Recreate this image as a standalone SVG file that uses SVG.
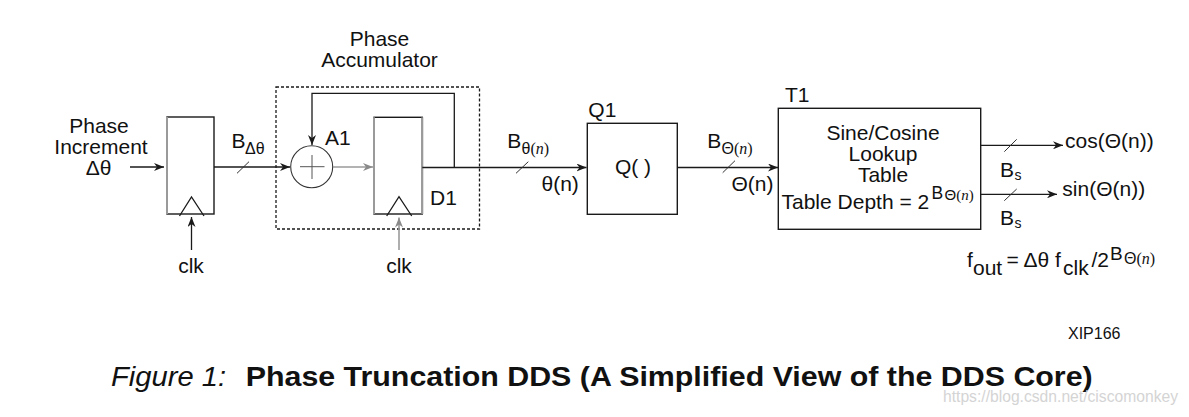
<svg xmlns="http://www.w3.org/2000/svg" width="1189" height="417" viewBox="0 0 1189 417">
<style>
text{font-family:"Liberation Sans",Arial,Helvetica,sans-serif;fill:#111;}
.t{font-size:21px;}
.m{text-anchor:middle;}
.sub{font-size:16px;}
.ser{font-family:"Liberation Serif","Times New Roman",serif;}
.box{fill:none;stroke:#1a1a1a;stroke-width:1.4;}
.gray{stroke:#9a9a9a;}
.ln{fill:none;stroke:#1a1a1a;stroke-width:1.3;}
.gl{fill:none;stroke:#9a9a9a;stroke-width:1.6;}
.sl{stroke:#333;stroke-width:1;}
</style>
<defs>
<marker id="ah" markerUnits="userSpaceOnUse" markerWidth="10" markerHeight="8" refX="10" refY="4" orient="auto">
<path d="M0,0 L10,4 L0,8 L3,4 z" fill="#1a1a1a"/>
</marker>
<marker id="ahg" markerUnits="userSpaceOnUse" markerWidth="10" markerHeight="8" refX="10" refY="4" orient="auto">
<path d="M0,0 L10,4 L0,8 L3,4 z" fill="#8a8a8a"/>
</marker>
</defs>
<rect width="1189" height="417" fill="#fff"/>

<g id="input-label">
<text class="t m" x="99" y="133">Phase</text>
<text class="t m" x="101" y="154">Increment</text>
<text class="t m" x="98.5" y="175">Δθ</text>
</g>

<g id="reg1">
<rect class="box" x="167" y="117" width="47" height="97"/>
<line x1="167" y1="117" x2="167" y2="214" stroke="#9a9a9a" stroke-width="2"/>
<polyline class="ln" points="179.5,216 191.5,197 204,216"/>
</g>

<g id="accumulator">
<rect x="276" y="87" width="203.5" height="142" fill="none" stroke="#1a1a1a" stroke-width="1.3" stroke-dasharray="3,2"/>
<text class="t m" x="379.5" y="46">Phase</text>
<text class="t m" x="379.5" y="67">Accumulator</text>
</g>

<g id="A1">
<circle cx="311.7" cy="166.7" r="21" fill="none" stroke="#333" stroke-width="1.1"/>
<line x1="300" y1="166.7" x2="324.5" y2="166.7" stroke="#555" stroke-width="1"/>
<line x1="312" y1="155" x2="312" y2="179" stroke="#555" stroke-width="1"/>
<text class="t" x="325" y="145">A1</text>
</g>

<g id="D1">
<rect class="box" x="374" y="117.3" width="48.3" height="96.7"/>
<line x1="374" y1="117.3" x2="374" y2="214" stroke="#9a9a9a" stroke-width="2"/>
<line x1="422.3" y1="117.3" x2="422.3" y2="214" stroke="#9a9a9a" stroke-width="2"/>
<polyline class="ln" points="386.7,216 399,196.7 411.7,216"/>
<text class="t" x="430" y="205">D1</text>
</g>

<g id="Q1">
<rect class="box" x="587.3" y="123.3" width="90" height="91"/>
<text class="t" x="588.3" y="117">Q1</text>
<text class="t m" x="633" y="174">Q( )</text>
</g>

<g id="T1">
<rect class="box" x="778.3" y="108.3" width="202.4" height="121"/>
<text class="t" x="785" y="101.5">T1</text>
<text class="t m" x="883" y="140">Sine/Cosine</text>
<text class="t m" x="883" y="160.5">Lookup</text>
<text class="t m" x="883" y="181.5">Table</text>
<text class="t" x="781.5" y="208.5">Table Depth = 2</text>
<text x="931.5" y="198.5" font-size="17.5">B</text>
<text x="944.5" y="199.5" font-size="15">Θ<tspan class="ser">(<tspan font-style="italic">n</tspan>)</tspan></text>
</g>

<g id="connectors">
<line class="ln" x1="130" y1="167" x2="164" y2="167" marker-end="url(#ah)"/>
<line class="ln" x1="191.5" y1="250" x2="191.5" y2="217" marker-end="url(#ah)"/>
<line class="ln" x1="214" y1="167" x2="290" y2="167" marker-end="url(#ah)"/>
<line class="sl" x1="237" y1="173.3" x2="249" y2="161.7"/>
<path class="ln" d="M454.3,167 V93.3 H312 V145" marker-end="url(#ah)"/>
<line class="gl" x1="333" y1="167" x2="373" y2="167" marker-end="url(#ahg)"/>
<line class="gl" x1="399" y1="250" x2="399" y2="217.5" marker-end="url(#ahg)"/>
<line class="ln" x1="422.3" y1="167.5" x2="586.5" y2="167.5" marker-end="url(#ah)"/>
<line class="sl" x1="516" y1="173.3" x2="528.3" y2="161.7"/>
<line class="ln" x1="677.3" y1="167.5" x2="778" y2="167.5" marker-end="url(#ah)"/>
<line class="sl" x1="722.7" y1="172.7" x2="735" y2="160.7"/>
<line class="ln" x1="980.7" y1="145.3" x2="1063" y2="145.3" marker-end="url(#ah)"/>
<line class="sl" x1="1004.3" y1="151.7" x2="1016.7" y2="139.3"/>
<line class="ln" x1="980.7" y1="194.3" x2="1057" y2="194.3" marker-end="url(#ah)"/>
<line class="sl" x1="1004.3" y1="200.7" x2="1016.7" y2="189"/>
</g>

<g id="labels">
<text class="t m" x="191" y="273">clk</text>
<text class="t m" x="399" y="273">clk</text>
<text class="t" x="231.5" y="148">B</text>
<text class="sub" x="245" y="153.5">Δθ</text>
<text class="t" x="507.3" y="148">B</text>
<text class="sub" x="521.5" y="153.5">θ<tspan class="ser">(<tspan font-style="italic">n</tspan>)</tspan></text>
<text class="t" x="541.5" y="191">θ(n)</text>
<text class="t" x="707.3" y="148">B</text>
<text class="sub" x="721.5" y="153.5">Θ<tspan class="ser">(<tspan font-style="italic">n</tspan>)</tspan></text>
<text class="t" x="731.5" y="191">Θ(n)</text>
<text class="t" x="1065" y="147.5">cos(Θ(n))</text>
<text class="t" x="1062.3" y="196">sin(Θ(n))</text>
<text class="t" x="1000" y="177">B</text>
<text x="1014.5" y="180" font-size="14">s</text>
<text class="t" x="1000" y="225">B</text>
<text x="1014.5" y="228" font-size="14">s</text>
</g>

<g id="formula">
<text class="t" x="967" y="267">f</text>
<text class="t" x="973" y="275">out</text>
<text class="t" x="1006.5" y="267">= Δθ f</text>
<text class="t" x="1063" y="275">clk</text>
<text class="t" x="1091.5" y="267">/2</text>
<text x="1110" y="260" font-size="19">B</text>
<text x="1124" y="264" font-size="16">Θ<tspan class="ser">(<tspan font-style="italic">n</tspan>)</tspan></text>
</g>

<text x="1068" y="338.5" font-size="16">XIP166</text>

<g id="caption">
<text x="111" y="386" font-size="28" font-style="italic" textLength="115" lengthAdjust="spacingAndGlyphs">Figure 1:</text>
<text x="245.7" y="386" font-size="28" font-weight="bold" textLength="847" lengthAdjust="spacingAndGlyphs">Phase Truncation DDS (A Simplified View of the DDS Core)</text>
</g>
<text x="943" y="402" font-size="16" style="fill:#d4d4d4" textLength="235" lengthAdjust="spacingAndGlyphs">https://blog.csdn.net/ciscomonkey</text>
</svg>
